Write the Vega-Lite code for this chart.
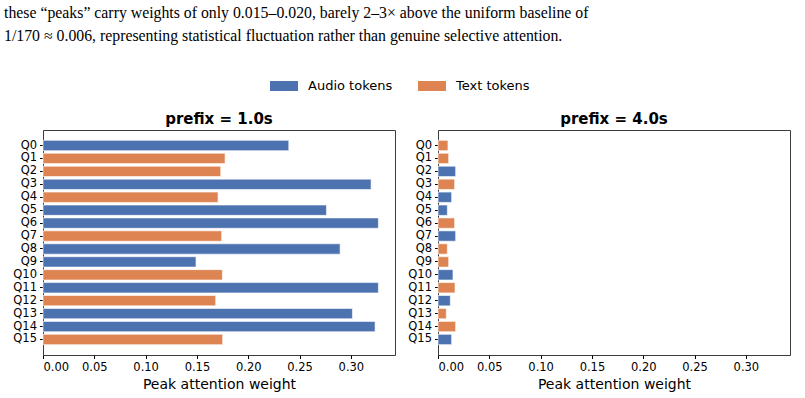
{
  "$schema": "https://vega.github.io/schema/vega-lite/v6.json",
  "padding": {"left": 4, "top": 4, "right": 5, "bottom": 5},
  "background": "white",
  "title": {
    "text": [
      "these “peaks” carry weights of only 0.015–0.020, barely 2–3× above the uniform baseline of",
      "1/170 ≈ 0.006, representing statistical fluctuation rather than genuine selective attention."
    ],
    "anchor": "start",
    "frame": "group",
    "dx": -39,
    "font": "Liberation Serif",
    "fontSize": 15.8,
    "fontWeight": "normal",
    "color": "black",
    "lineHeight": 23.3,
    "offset": 27
  },
  "data": {
    "values": [
      {"prefix": "1.0s", "query": "Q0", "type": "Audio tokens", "weight": 0.2395},
      {"prefix": "1.0s", "query": "Q1", "type": "Text tokens", "weight": 0.1774},
      {"prefix": "1.0s", "query": "Q2", "type": "Text tokens", "weight": 0.1732},
      {"prefix": "1.0s", "query": "Q3", "type": "Audio tokens", "weight": 0.3197},
      {"prefix": "1.0s", "query": "Q4", "type": "Text tokens", "weight": 0.1706},
      {"prefix": "1.0s", "query": "Q5", "type": "Audio tokens", "weight": 0.2762},
      {"prefix": "1.0s", "query": "Q6", "type": "Audio tokens", "weight": 0.3268},
      {"prefix": "1.0s", "query": "Q7", "type": "Text tokens", "weight": 0.1741},
      {"prefix": "1.0s", "query": "Q8", "type": "Audio tokens", "weight": 0.2895},
      {"prefix": "1.0s", "query": "Q9", "type": "Audio tokens", "weight": 0.1491},
      {"prefix": "1.0s", "query": "Q10", "type": "Text tokens", "weight": 0.1748},
      {"prefix": "1.0s", "query": "Q11", "type": "Audio tokens", "weight": 0.3268},
      {"prefix": "1.0s", "query": "Q12", "type": "Text tokens", "weight": 0.1683},
      {"prefix": "1.0s", "query": "Q13", "type": "Audio tokens", "weight": 0.3015},
      {"prefix": "1.0s", "query": "Q14", "type": "Audio tokens", "weight": 0.3236},
      {"prefix": "1.0s", "query": "Q15", "type": "Text tokens", "weight": 0.1751},
      {"prefix": "4.0s", "query": "Q0", "type": "Text tokens", "weight": 0.0097},
      {"prefix": "4.0s", "query": "Q1", "type": "Text tokens", "weight": 0.0104},
      {"prefix": "4.0s", "query": "Q2", "type": "Audio tokens", "weight": 0.0172},
      {"prefix": "4.0s", "query": "Q3", "type": "Text tokens", "weight": 0.0162},
      {"prefix": "4.0s", "query": "Q4", "type": "Audio tokens", "weight": 0.0133},
      {"prefix": "4.0s", "query": "Q5", "type": "Audio tokens", "weight": 0.0091},
      {"prefix": "4.0s", "query": "Q6", "type": "Text tokens", "weight": 0.0162},
      {"prefix": "4.0s", "query": "Q7", "type": "Audio tokens", "weight": 0.0172},
      {"prefix": "4.0s", "query": "Q8", "type": "Text tokens", "weight": 0.0091},
      {"prefix": "4.0s", "query": "Q9", "type": "Text tokens", "weight": 0.0104},
      {"prefix": "4.0s", "query": "Q10", "type": "Audio tokens", "weight": 0.0146},
      {"prefix": "4.0s", "query": "Q11", "type": "Text tokens", "weight": 0.0166},
      {"prefix": "4.0s", "query": "Q12", "type": "Audio tokens", "weight": 0.012},
      {"prefix": "4.0s", "query": "Q13", "type": "Text tokens", "weight": 0.0081},
      {"prefix": "4.0s", "query": "Q14", "type": "Text tokens", "weight": 0.0172},
      {"prefix": "4.0s", "query": "Q15", "type": "Audio tokens", "weight": 0.0133}
    ]
  },
  "facet": {
    "column": {
      "field": "prefix",
      "type": "nominal",
      "title": null,
      "header": {
        "labelExpr": "'prefix = ' + datum.value",
        "labelFont": "DejaVu Sans",
        "labelFontWeight": "bold",
        "labelFontSize": 15,
        "labelColor": "black",
        "labelPadding": 3
      }
    }
  },
  "spacing": {"column": 43},
  "bounds": "flush",
  "resolve": {"axis": {"y": "independent", "x": "independent"}},
  "spec": {
    "width": 352,
    "height": 225,
    "mark": {"type": "bar", "stroke": "white", "strokeWidth": 0.6},
    "encoding": {
      "y": {
        "field": "query",
        "type": "nominal",
        "sort": ["Q0", "Q1", "Q2", "Q3", "Q4", "Q5", "Q6", "Q7", "Q8", "Q9", "Q10", "Q11", "Q12", "Q13", "Q14", "Q15"],
        "scale": {"paddingInner": 0.2, "paddingOuter": 0.8},
        "axis": {
          "title": null,
          "domain": false,
          "tickSize": 3.5,
          "tickColor": "black",
          "labelFont": "DejaVu Sans",
          "labelFontSize": 11.5,
          "labelColor": "black",
          "labelPadding": 3
        }
      },
      "x": {
        "field": "weight",
        "type": "quantitative",
        "scale": {"domain": [0, 0.343], "nice": false},
        "axis": {
          "title": "Peak attention weight",
          "values": [0, 0.05, 0.1, 0.15, 0.2, 0.25, 0.3],
          "format": ".2f",
          "grid": false,
          "domain": false,
          "tickSize": 3.5,
          "tickColor": "black",
          "labelFont": "DejaVu Sans",
          "labelFontSize": 11.5,
          "labelColor": "black",
          "labelPadding": 3,
          "titleFont": "DejaVu Sans",
          "titleFontSize": 14,
          "titleFontWeight": "normal",
          "titleColor": "black",
          "titlePadding": 4
        }
      },
      "color": {
        "field": "type",
        "type": "nominal",
        "scale": {"domain": ["Audio tokens", "Text tokens"], "range": ["#4C72B0", "#DD8452"]},
        "legend": {
          "title": null,
          "orient": "none",
          "direction": "horizontal",
          "legendX": 227,
          "legendY": -58,
          "symbolType": "M-1,-0.357H1V0.357H-1Z",
          "symbolSize": 784,
          "symbolStrokeWidth": 0,
          "labelFont": "DejaVu Sans",
          "labelFontSize": 13,
          "labelColor": "black",
          "labelOffset": 10,
          "columnPadding": 25
        }
      }
    }
  },
  "config": {
    "view": {"stroke": "#3c3c3c", "strokeWidth": 1}
  }
}
